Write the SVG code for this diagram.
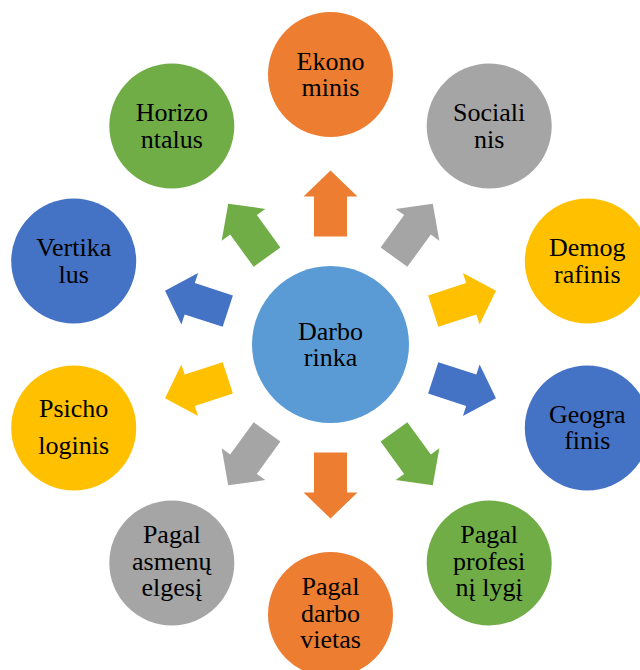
<svg xmlns="http://www.w3.org/2000/svg" width="640" height="670" viewBox="0 0 640 670">
<style>
text{font-family:"Liberation Serif","Times New Roman",serif;font-size:26px;fill:#000;text-anchor:middle}
.o{fill:#ED7D31}.g{fill:#A5A5A5}.y{fill:#FFC000}.b{fill:#4472C4}.gr{fill:#70AD47}.c{fill:#5B9BD5}
</style>
<defs>
<polygon id="arr" points="-16.5,-108 -16.5,-148 -27,-148 0,-174 27,-148 16.5,-148 16.5,-108"/>
</defs>
<rect width="640" height="670" fill="#fff"/>
<g id="connectors" transform="translate(330.5 344.5)">
<use href="#arr" class="o" transform="rotate(0)"/>
<use href="#arr" class="g" transform="rotate(36)"/>
<use href="#arr" class="y" transform="rotate(72)"/>
<use href="#arr" class="b" transform="rotate(108)"/>
<use href="#arr" class="gr" transform="rotate(144)"/>
<use href="#arr" class="o" transform="rotate(180)"/>
<use href="#arr" class="g" transform="rotate(216)"/>
<use href="#arr" class="y" transform="rotate(252)"/>
<use href="#arr" class="b" transform="rotate(288)"/>
<use href="#arr" class="gr" transform="rotate(324)"/>
</g>
<g id="center"><circle class="c" cx="330.5" cy="344.5" r="78.5"/><text x="330.5" y="339.5">Darbo</text><text x="330.5" y="366">rinka</text></g>
<g id="ekonominis"><circle class="o" cx="330.5" cy="74.5" r="62.5"/><text x="330.5" y="69.5">Ekono</text><text x="330.5" y="96">minis</text></g>
<g id="socialinis"><circle class="g" cx="489.2" cy="126.1" r="62.5"/><text x="489.2" y="121.1">Sociali</text><text x="489.2" y="147.6">nis</text></g>
<g id="demografinis"><circle class="y" cx="587.3" cy="261.1" r="62.5"/><text x="587.3" y="256.1">Demog</text><text x="587.3" y="282.6">rafinis</text></g>
<g id="geografinis"><circle class="b" cx="587.3" cy="427.9" r="62.5"/><text x="587.3" y="422.9">Geogra</text><text x="587.3" y="449.4">finis</text></g>
<g id="profesinis"><circle class="gr" cx="489.2" cy="562.9" r="62.5"/><text x="489.2" y="543.4">Pagal</text><text x="489.2" y="569.9">profesi</text><text x="489.2" y="596.4">nį lygį</text></g>
<g id="darbo-vietas"><circle class="o" cx="330.5" cy="614.5" r="62.5"/><text x="330.5" y="595">Pagal</text><text x="330.5" y="621.5">darbo</text><text x="330.5" y="648">vietas</text></g>
<g id="asmenu-elgesi"><circle class="g" cx="171.8" cy="562.9" r="62.5"/><text x="171.8" y="543.4">Pagal</text><text x="171.8" y="569.9">asmenų</text><text x="171.8" y="596.4">elgesį</text></g>
<g id="psichologinis"><circle class="y" cx="73.7" cy="427.9" r="62.5"/><text x="73.7" y="417.4">Psicho</text><text x="73.7" y="454.4">loginis</text></g>
<g id="vertikalus"><circle class="b" cx="73.7" cy="261.1" r="62.5"/><text x="73.7" y="256.1">Vertika</text><text x="73.7" y="282.6">lus</text></g>
<g id="horizontalus"><circle class="gr" cx="171.8" cy="126.1" r="62.5"/><text x="171.8" y="121.1">Horizo</text><text x="171.8" y="147.6">ntalus</text></g>
</svg>
